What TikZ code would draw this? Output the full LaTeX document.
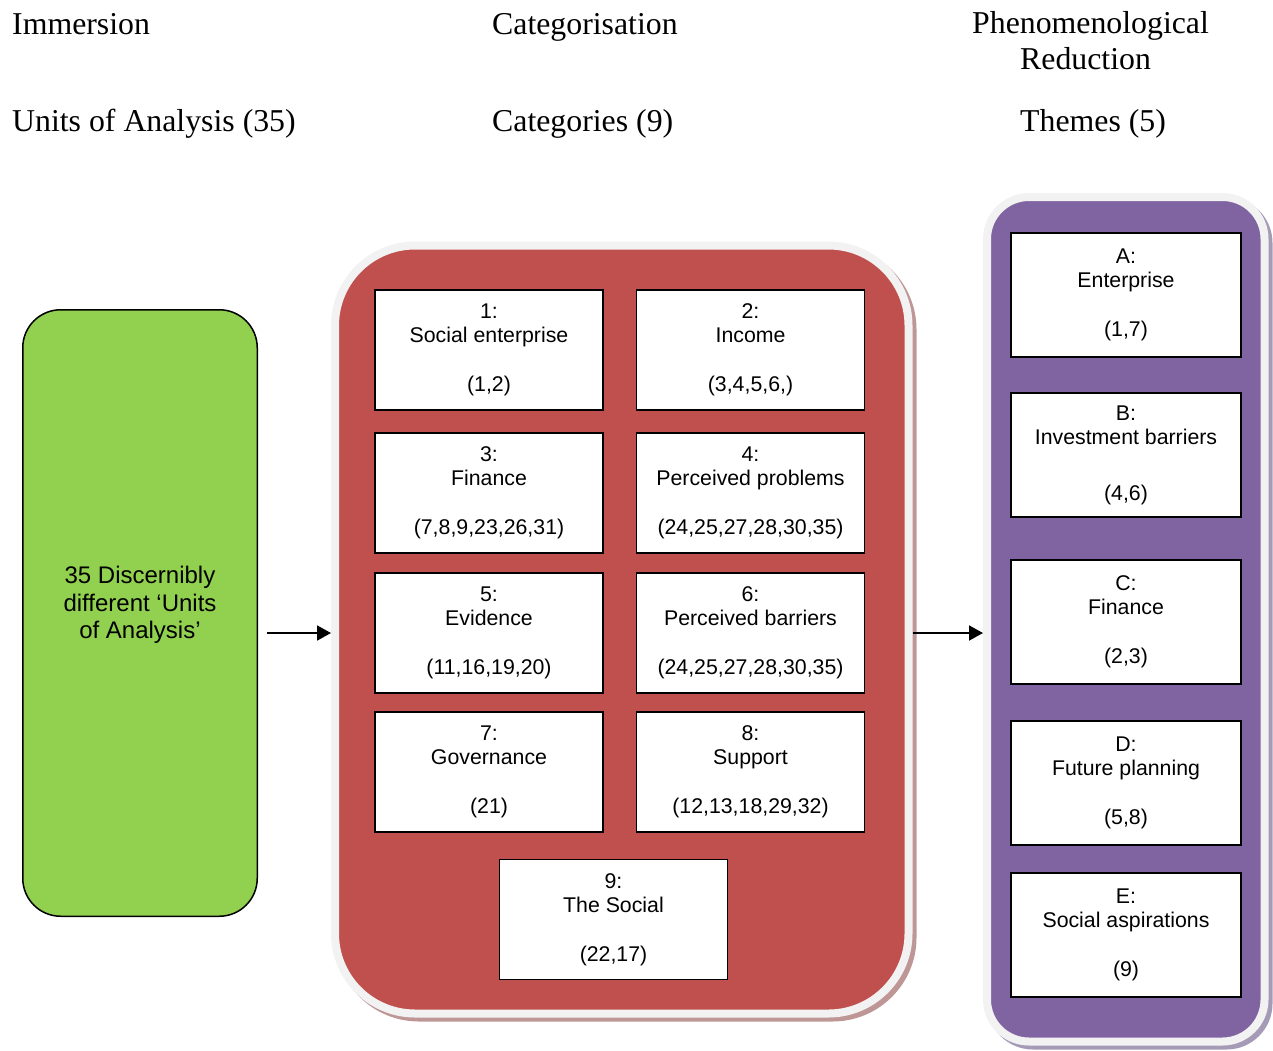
\documentclass[tikz,border=0pt]{standalone}
\usepackage{fontspec}
\setmainfont{Liberation Serif}
\setsansfont{Liberation Sans}
\usetikzlibrary{arrows.meta,shadows}

\definecolor{unitgreen}{HTML}{92D050}
\definecolor{catred}{HTML}{C0504D}
\definecolor{themepurple}{HTML}{8064A2}
\definecolor{rimgray}{HTML}{F2F2F2}
\definecolor{redshadow}{HTML}{BE9696}
\definecolor{purpleshadow}{HTML}{A69BB6}

\tikzset{
  heading/.style={anchor=base west, inner sep=0pt, font=\rmfamily\fontsize{31.8}{36}\selectfont},
  container/.style={rectangle, rounded corners=#1, line width=8pt, draw=rimgray},
  itembox/.style={rectangle, draw=black, fill=white, line width=1.8pt, align=center, font=\sffamily\fontsize{21.3}{24.5}\selectfont},
  catbox/.style={itembox, minimum width=228pt, minimum height=120pt},
  themebox/.style={itembox, minimum width=230pt, minimum height=124pt},
  arrow/.style={-{Triangle[length=14pt,width=15pt]}, line width=1.8pt},
}

\begin{document}
\begin{tikzpicture}[x=1pt, y=-1pt]
        \useasboundingbox (0,0) rectangle (1273,1050);

        % column headings
        \node(immersion)[heading] at (12,34) {Immersion};
        \node(unitshead)[heading] at (12,131) {Units of Analysis (35)};
        \node(categorisation)[heading] at (492,34) {Categorisation};
        \node(catshead)[heading] at (492,131) {Categories (9)};
        \node(phenomenological)[heading] at (972,33) {Phenomenological};
        \node(reduction)[heading] at (1020,69) {Reduction};
        \node(themeshead)[heading] at (1020,131) {Themes (5)};

        % units of analysis
        \node(units)[rectangle, rounded corners=38pt, draw=black, line width=1.5pt, fill=unitgreen, minimum width=234.5pt, minimum height=606.5pt] at (140,613) {};
        \node(unitstext)[align=center, font=\sffamily\fontsize{24}{27.5}\selectfont] at (140,605) {35 Discernibly\\different ‘Units\\of Analysis’};

        % categories
        \node(cats)[container=80pt, fill=catred, drop shadow={shadow xshift=4pt, shadow yshift=-4pt, opacity=1, fill=redshadow, draw=redshadow, line width=8pt}, minimum width=573.5pt, minimum height=768pt] at (621.75,629.5) {};
        \node(cat1)[catbox] at (489,350) {1:\\Social enterprise\\[24.5pt](1,2)};
        \node(cat2)[catbox] at (750.5,350) {2:\\Income\\[24.5pt](3,4,5,6,)};
        \node(cat3)[catbox] at (489,493) {3:\\Finance\\[24.5pt](7,8,9,23,26,31)};
        \node(cat4)[catbox] at (750.5,493) {4:\\Perceived problems\\[24.5pt](24,25,27,28,30,35)};
        \node(cat5)[catbox] at (489,633) {5:\\Evidence\\[24.5pt](11,16,19,20)};
        \node(cat6)[catbox] at (750.5,633) {6:\\Perceived barriers\\[24.5pt](24,25,27,28,30,35)};
        \node(cat7)[catbox] at (489,772) {7:\\Governance\\[24.5pt](21)};
        \node(cat8)[catbox] at (750.5,772) {8:\\Support\\[24.5pt](12,13,18,29,32)};
        \node(cat9)[catbox] at (613.5,919.5) {9:\\The Social\\[24.5pt](22,17)};

        % themes
        \node(themes)[container=42pt, fill=themepurple, drop shadow={shadow xshift=4pt, shadow yshift=-4pt, opacity=1, fill=purpleshadow, draw=purpleshadow, line width=8pt}, minimum width=277.5pt, minimum height=844.5pt] at (1125.75,619.25) {};
        \node(themeA)[themebox] at (1126,295) {A:\\Enterprise\\[24.5pt](1,7)};
        \node(themeB)[themebox] at (1126,455) {B:\\Investment barriers\\[31pt](4,6)};
        \node(themeC)[themebox] at (1126,622) {C:\\Finance\\[24.5pt](2,3)};
        \node(themeD)[themebox] at (1126,783) {D:\\Future planning\\[24.5pt](5,8)};
        \node(themeE)[themebox] at (1126,935) {E:\\Social aspirations\\[24.5pt](9)};

        % flow
        \coordinate(arrowrow) at (0,633);
        \draw[arrow, shorten <=9pt] (units.east |- arrowrow) -- (cats.west |- arrowrow);
        \draw[arrow] (cats.east |- arrowrow) -- (themes.west |- arrowrow);
    \end{tikzpicture}
\end{document}
